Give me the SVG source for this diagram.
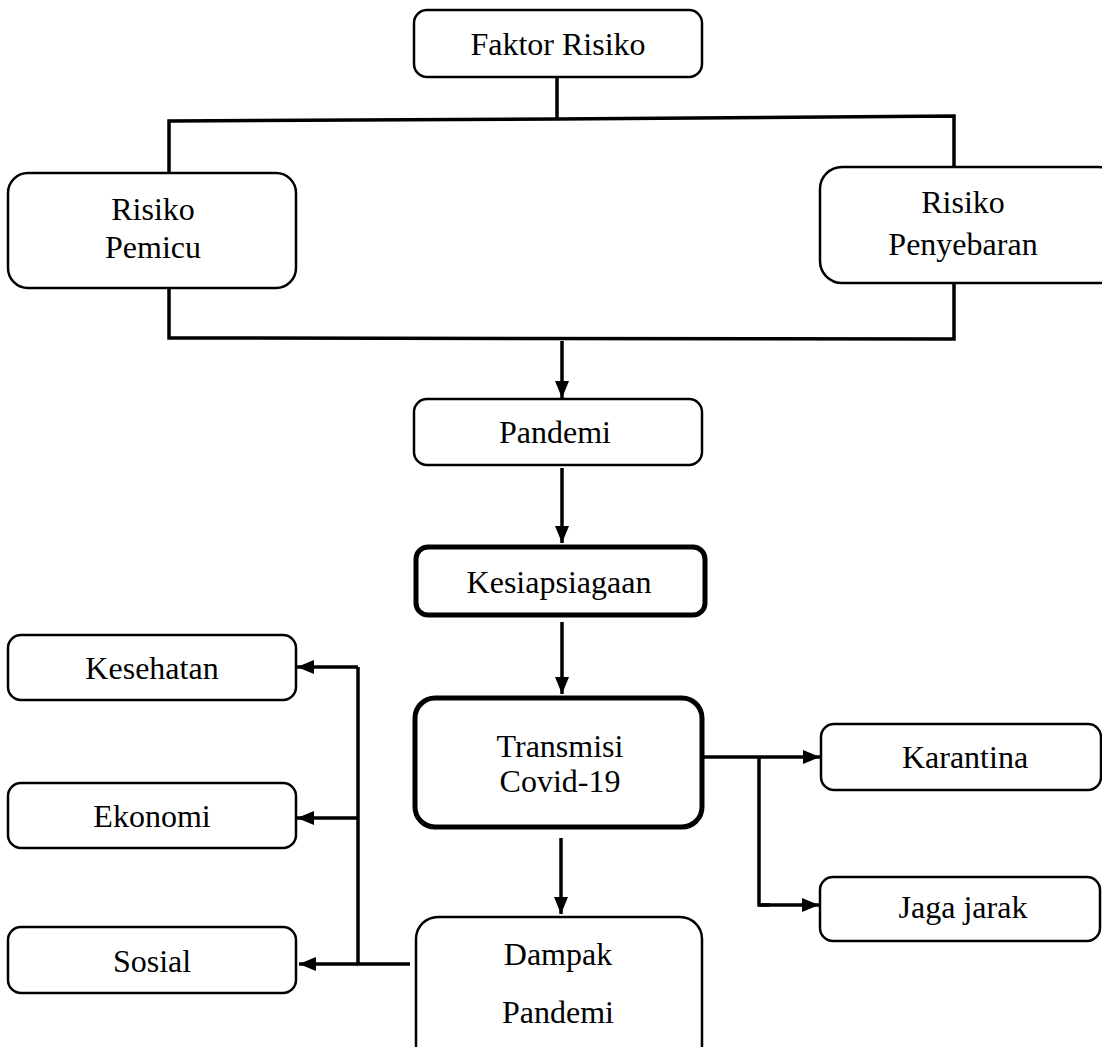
<svg xmlns="http://www.w3.org/2000/svg" width="1102" height="1047" viewBox="0 0 1102 1047">
<defs>
<marker id="ah" viewBox="0 0 17 14" refX="17" refY="7" markerWidth="17" markerHeight="14" markerUnits="userSpaceOnUse" orient="auto">
<path d="M0,0 L17,7 L0,14 Z" fill="#000"/>
</marker>
<style>
.box{fill:#fff;stroke:#000;stroke-width:2.5}
.thick{fill:#fff;stroke:#000;stroke-width:5}
.t{font-family:"Liberation Serif","Times New Roman",serif;font-size:32px;fill:#000;text-anchor:middle}
.ln{fill:none;stroke:#000;stroke-width:3.5}
.ar{fill:none;stroke:#000;stroke-width:3.5;marker-end:url(#ah)}
</style>
</defs>
<rect width="1102" height="1047" fill="#fff"/>
<g id="connectors">
<line class="ln" x1="557" y1="77" x2="557" y2="119"/>
<polyline class="ln" points="169,173 169,121 557,119 954,116 954,167"/>
<polyline class="ln" points="169,288 169,338 954,339 954,283"/>
<line class="ar" x1="562" y1="341" x2="562" y2="398"/>
<line class="ar" x1="562" y1="468" x2="562" y2="543"/>
<line class="ar" x1="562" y1="622" x2="562" y2="694"/>
<line class="ar" x1="561" y1="838" x2="561" y2="914"/>
<polyline class="ln" points="410,964 358,964 358,667"/>
<line class="ar" x1="358" y1="667" x2="297" y2="667"/>
<line class="ar" x1="358" y1="818" x2="297" y2="818"/>
<line class="ar" x1="358" y1="964" x2="299" y2="964"/>
<line class="ar" x1="704" y1="757" x2="820" y2="757"/>
<polyline class="ln" points="759,757 759,905 770,905"/>
<line class="ar" x1="759" y1="905" x2="819" y2="905"/>
</g>
<g id="faktor-risiko">
<rect class="box" x="414" y="10" width="288" height="67" rx="13"/>
<text class="t" x="558" y="55">Faktor Risiko</text>
</g>
<g id="risiko-pemicu">
<rect class="box" x="8" y="173" width="288" height="115" rx="20"/>
<text class="t" x="153" y="220">Risiko</text>
<text class="t" x="153" y="258">Pemicu</text>
</g>
<g id="risiko-penyebaran">
<rect class="box" x="820" y="167" width="300" height="116" rx="22"/>
<text class="t" x="963" y="213">Risiko</text>
<text class="t" x="963" y="255">Penyebaran</text>
</g>
<g id="pandemi">
<rect class="box" x="414" y="399" width="288" height="66" rx="13"/>
<text class="t" x="555" y="443">Pandemi</text>
</g>
<g id="kesiapsiagaan">
<rect class="thick" x="416" y="547" width="289" height="68" rx="12"/>
<text class="t" x="559" y="593">Kesiapsiagaan</text>
</g>
<g id="transmisi">
<rect class="thick" x="415" y="698" width="287" height="129" rx="20"/>
<text class="t" x="560" y="757">Transmisi</text>
<text class="t" x="560" y="792">Covid-19</text>
</g>
<g id="dampak">
<rect class="box" x="416" y="917" width="286" height="150" rx="22"/>
<text class="t" x="558" y="965">Dampak</text>
<text class="t" x="558" y="1023">Pandemi</text>
</g>
<g id="kesehatan">
<rect class="box" x="8" y="635" width="288" height="65" rx="13"/>
<text class="t" x="152" y="679">Kesehatan</text>
</g>
<g id="ekonomi">
<rect class="box" x="8" y="783" width="288" height="65" rx="13"/>
<text class="t" x="152" y="827">Ekonomi</text>
</g>
<g id="sosial">
<rect class="box" x="8" y="927" width="288" height="66" rx="13"/>
<text class="t" x="152" y="972">Sosial</text>
</g>
<g id="karantina">
<rect class="box" x="821" y="724" width="280" height="66" rx="13"/>
<text class="t" x="965" y="768">Karantina</text>
</g>
<g id="jaga-jarak">
<rect class="box" x="820" y="877" width="280" height="64" rx="13"/>
<text class="t" x="963" y="918">Jaga jarak</text>
</g>
</svg>
